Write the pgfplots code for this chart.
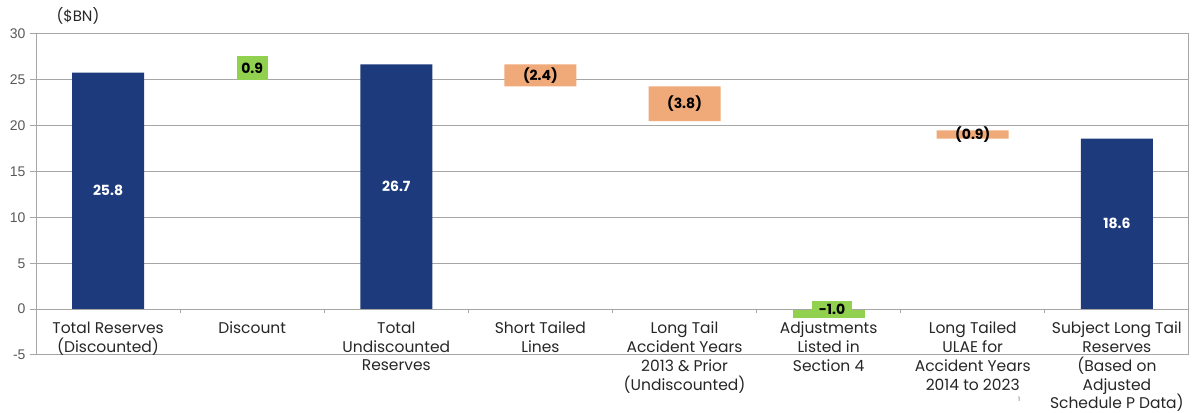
\documentclass[border=0pt]{standalone}
\usepackage{pgfplots}
\pgfplotsset{compat=1.18}
\usepackage{fontspec}
\setmainfont{Poppins}
\newfontfamily\arialfont{Liberation Sans}
\definecolor{navy}{HTML}{1C3A7C}
\definecolor{lgreen}{HTML}{92D050}
\definecolor{peach}{HTML}{F0A978}
\definecolor{gridc}{HTML}{A6A6A6}
\definecolor{tickc}{HTML}{595959}
\begin{document}
\begin{tikzpicture}
\useasboundingbox (-36bp,-58bp) rectangle (1161bp,355bp);
\begin{axis}[
  at={(0,0)}, anchor=south west,
  scale only axis, width=1153bp, height=321bp,
  xmin=-0.5, xmax=7.5, ymin=-5, ymax=30,
  ytick={-5,0,...,30}, xtick=\empty,
  ytick pos=left, tick align=outside, major tick length=6bp,
  ymajorgrids, grid style={gridc, line width=1bp},
  axis line style={gridc, line width=1bp},
  tick style={gridc, line width=1bp},
  yticklabel style={font=\arialfont\fontsize{14bp}{16bp}\selectfont, text=tickc, xshift=-1bp},
  /pgf/number format/assume math mode=true,
  ybar stacked, bar width=72bp,
  clip=false,
]
% adjustments (green, below zero)
\addplot[fill=lgreen, draw=none] coordinates {(0,0) (1,0) (2,0) (3,0) (4,0) (5,-1.0) (6,0) (7,0)};
% invisible base
\addplot[fill=none, draw=none] coordinates {(0,0) (1,25.8) (2,0) (3,24.3) (4,20.5) (5,20.5) (6,18.6) (7,0)};
% totals
\addplot[fill=navy, draw=none] coordinates {(0,25.8) (1,0) (2,26.7) (3,0) (4,0) (5,0) (6,0) (7,18.6)};
% decreases
\addplot[fill=peach, draw=none] coordinates {(0,0) (1,0) (2,0) (3,2.4) (4,3.8) (5,0) (6,0.9) (7,0)};
% discount / adjustment steps (not drawn)
\addplot[fill=none, draw=none] coordinates {(0,0) (1,0.9) (2,0) (3,0) (4,0) (5,1.0) (6,0) (7,0)};

\coordinate (zl) at (axis cs:-0.5,0);
\coordinate (zr) at (axis cs:7.5,0);
\coordinate (t1) at (axis cs:0.5,0);
\coordinate (t2) at (axis cs:1.5,0);
\coordinate (t3) at (axis cs:2.5,0);
\coordinate (t4) at (axis cs:3.5,0);
\coordinate (t5) at (axis cs:4.5,0);
\coordinate (t6) at (axis cs:5.5,0);
\coordinate (t7) at (axis cs:6.5,0);
\coordinate (v0) at (axis cs:0,12.9);
\coordinate (v1) at (axis cs:1,26.25);
\coordinate (v2) at (axis cs:2,13.35);
\coordinate (v3) at (axis cs:3,25.5);
\coordinate (v4) at (axis cs:4,22.4);
\coordinate (v5) at (axis cs:5.024,-0.05);
\coordinate (v6) at (axis cs:6,19.05);
\coordinate (v7) at (axis cs:7,9.3);
\coordinate (c0) at (axis cs:0,0);
\coordinate (c1) at (axis cs:1,0);
\coordinate (c2) at (axis cs:2,0);
\coordinate (c3) at (axis cs:3,0);
\coordinate (c4) at (axis cs:4,0);
\coordinate (c5) at (axis cs:5,0);
\coordinate (c6) at (axis cs:6,0);
\coordinate (c7) at (axis cs:7,0);
\end{axis}

% zero line and category tick marks
\draw[gridc, line width=1.2bp] (zl) -- (zr);
\foreach \t in {t1,t2,t3,t4,t5,t6,t7} {\draw[gridc, line width=1bp] (\t) -- ++(0,-4bp);}

% value labels
\tikzset{vl/.style={font=\bfseries\fontsize{14bp}{16bp}\selectfont, inner sep=0pt}}
\node[vl, text=white] at (v0) {25.8};
\node[vl, text=white] at (v2) {26.7};
\node[vl, text=white] at (v7) {18.6};
\node[vl, fill=lgreen, minimum width=31bp, minimum height=24bp] at (v1) {0.9};
\node[vl] at (v3) {(2.4)};
\node[vl] at (v4) {(3.8)};
\node[vl] at (v6) {(0.9)};
\node[vl, fill=lgreen, minimum width=40bp, minimum height=17bp] at (v5) {-1.0};

% category labels
\tikzset{cl/.style={anchor=north, align=center, inner sep=0pt, text=black!85, font=\fontsize{15.5bp}{18.8bp}\selectfont, yshift=-12.5bp}}
\node[cl] at (c0) {Total Reserves\\(Discounted)};
\node[cl] at (c1) {Discount};
\node[cl] at (c2) {Total\\Undiscounted\\Reserves};
\node[cl] at (c3) {Short Tailed\\Lines};
\node[cl] at (c4) {Long Tail\\Accident Years\\2013 \& Prior\\(Undiscounted)};
\node[cl] at (c5) {Adjustments\\Listed in\\Section 4};
\node[cl] at (c6) {Long Tailed\\ULAE for\\Accident Years\\2014 to 2023};
\node[cl] at (c7) {Subject Long Tail\\Reserves\\(Based on\\Adjusted\\Schedule P Data)};

\node[font=\fontsize{15bp}{16bp}\selectfont, text=black!85] at (42bp,339bp) {(\$BN)};
\node[font=\fontsize{6bp}{7bp}\selectfont, text=tickc] at (983bp,-44bp) {1};
\end{tikzpicture}
\end{document}
